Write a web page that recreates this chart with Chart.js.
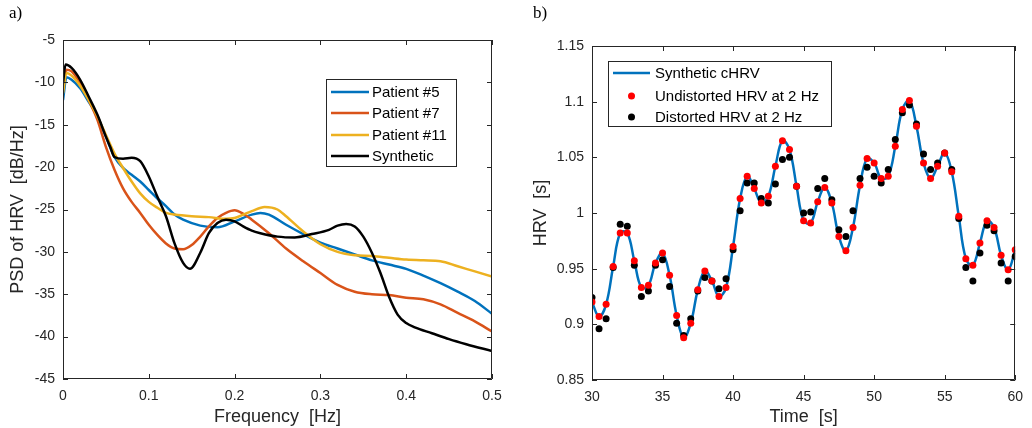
<!DOCTYPE html>
<html>
<head>
<meta charset="utf-8">
<script src="https://cdn.jsdelivr.net/npm/chart.js@4"></script>
<style>
  body { margin: 0; background: #fff; }
  #wrap { position: relative; width: 1032px; height: 428px; overflow: hidden; }
  canvas { position: absolute; top: 0; }
  .tag { position: absolute; font-family: "Liberation Serif", serif; font-size: 17px; color: #000; }
</style>
</head>
<body>
<div id="wrap">
  <canvas id="psdChart" width="516" height="428" style="left:0"></canvas>
  <canvas id="hrvChart" width="516" height="428" style="left:516px"></canvas>
  <div class="tag" style="left:9px;top:3px">a)</div>
  <div class="tag" style="left:533px;top:3px">b)</div>
</div>
<script>
// ---- panel a) PSD of HRV ----
const psdFreqP5 = [0, 0.004, 0.01, 0.02, 0.03, 0.04, 0.05, 0.06, 0.07, 0.08, 0.09, 0.10, 0.11, 0.12, 0.13, 0.14, 0.16, 0.18, 0.20, 0.22, 0.23, 0.24, 0.26, 0.28, 0.30, 0.32, 0.34, 0.36, 0.38, 0.40, 0.42, 0.44, 0.46, 0.48, 0.50];
const psdPatient5 = [-12.1, -9.4, -9.7, -10.7, -12.3, -14.0, -16.4, -18.8, -20.1, -20.9, -21.7, -22.7, -23.7, -24.6, -25.6, -26.2, -26.9, -27.1, -26.4, -25.6, -25.4, -25.6, -26.8, -27.9, -28.9, -29.6, -30.3, -31.0, -31.5, -32.0, -32.8, -33.7, -34.7, -35.8, -37.3];

const psdFreqP7 = [0, 0.004, 0.01, 0.02, 0.03, 0.04, 0.05, 0.06, 0.07, 0.08, 0.09, 0.10, 0.11, 0.12, 0.13, 0.14, 0.15, 0.16, 0.17, 0.18, 0.19, 0.20, 0.21, 0.22, 0.24, 0.26, 0.28, 0.30, 0.32, 0.34, 0.36, 0.38, 0.40, 0.42, 0.44, 0.46, 0.48, 0.50];
const psdPatient7 = [-10.7, -8.5, -8.7, -10.1, -12.1, -14.4, -17.6, -20.3, -22.5, -24.1, -25.4, -26.8, -28.0, -29.0, -29.6, -29.7, -29.2, -28.2, -27.0, -26.0, -25.4, -25.1, -25.5, -26.2, -27.8, -29.6, -31.1, -32.5, -33.9, -34.7, -35.0, -35.1, -35.4, -35.6, -36.2, -37.2, -38.2, -39.4];

const psdFreqP11 = [0, 0.004, 0.01, 0.02, 0.03, 0.04, 0.05, 0.06, 0.07, 0.08, 0.09, 0.10, 0.11, 0.12, 0.13, 0.15, 0.17, 0.19, 0.20, 0.21, 0.22, 0.235, 0.25, 0.26, 0.28, 0.30, 0.32, 0.34, 0.36, 0.38, 0.40, 0.42, 0.44, 0.46, 0.48, 0.50];
const psdPatient11 = [-11.3, -8.9, -9.2, -10.4, -12.1, -14.0, -16.2, -18.4, -20.1, -21.7, -23.1, -24.1, -24.8, -25.4, -25.6, -25.8, -25.9, -26.1, -26.0, -25.6, -25.2, -24.7, -25.0, -25.8, -27.6, -29.1, -30.0, -30.4, -30.5, -30.7, -30.9, -31.0, -31.1, -31.7, -32.3, -32.9];

const psdFreqSyn = [0, 0.003, 0.01, 0.02, 0.03, 0.04, 0.05, 0.055, 0.06, 0.07, 0.08, 0.09, 0.10, 0.11, 0.12, 0.13, 0.14, 0.148, 0.16, 0.17, 0.18, 0.19, 0.20, 0.21, 0.22, 0.23, 0.25, 0.27, 0.29, 0.31, 0.32, 0.33, 0.34, 0.35, 0.36, 0.37, 0.38, 0.39, 0.40, 0.41, 0.43, 0.45, 0.47, 0.50];
const psdSynthetic = [-10.1, -7.9, -8.3, -9.7, -11.7, -13.8, -16.4, -17.6, -18.8, -19.0, -18.9, -19.3, -21.1, -23.5, -25.8, -29.0, -31.3, -32.0, -30.1, -27.8, -26.6, -26.2, -26.4, -27.0, -27.5, -27.8, -28.2, -28.3, -27.9, -27.4, -26.9, -26.7, -27.0, -28.2, -30.1, -32.5, -35.3, -37.4, -38.4, -38.9, -39.6, -40.3, -40.9, -41.7];

const psdLabels = ["Patient #5", "Patient #7", "Patient #11", "Synthetic"];
const psdColors = ["#0072BD", "#D95319", "#EDB120", "#000000"];
const psdXTicks = [0, 0.1, 0.2, 0.3, 0.4, 0.5];
const psdYTicks = [-45, -40, -35, -30, -25, -20, -15, -10, -5];

// ---- panel b) HRV time series ----
const hrvTime = [30, 30.5, 31, 31.5, 32, 32.5, 33, 33.5, 34, 34.5, 35, 35.5, 36, 36.5, 37, 37.5, 38, 38.5, 39, 39.5, 40, 40.5, 41, 41.5, 42, 42.5, 43, 43.5, 44, 44.5, 45, 45.5, 46, 46.5, 47, 47.5, 48, 48.5, 49, 49.5, 50, 50.5, 51, 51.5, 52, 52.5, 53, 53.5, 54, 54.5, 55, 55.5, 56, 56.5, 57, 57.5, 58, 58.5, 59, 59.5, 60];
const hrvUndistorted = [0.920, 0.907, 0.918, 0.952, 0.982, 0.982, 0.957, 0.933, 0.935, 0.955, 0.964, 0.944, 0.908, 0.888, 0.901, 0.931, 0.948, 0.939, 0.925, 0.933, 0.970, 1.013, 1.033, 1.022, 1.009, 1.015, 1.042, 1.065, 1.057, 1.024, 0.993, 0.991, 1.010, 1.023, 1.009, 0.979, 0.966, 0.987, 1.025, 1.049, 1.045, 1.031, 1.033, 1.060, 1.093, 1.101, 1.078, 1.045, 1.031, 1.042, 1.054, 1.037, 0.997, 0.959, 0.953, 0.973, 0.993, 0.987, 0.962, 0.949, 0.967];
const hrvDistorted = [0.924, 0.896, 0.905, 0.951, 0.990, 0.988, 0.953, 0.925, 0.930, 0.953, 0.958, 0.934, 0.901, 0.890, 0.905, 0.930, 0.942, 0.939, 0.932, 0.941, 0.967, 1.002, 1.027, 1.027, 1.013, 1.009, 1.026, 1.048, 1.050, 1.024, 1.000, 1.001, 1.022, 1.031, 1.012, 0.985, 0.979, 1.002, 1.031, 1.041, 1.033, 1.027, 1.039, 1.066, 1.090, 1.097, 1.080, 1.053, 1.039, 1.045, 1.054, 1.039, 0.995, 0.951, 0.939, 0.964, 0.989, 0.984, 0.955, 0.939, 0.961];
const hrvLabels = ["Synthetic cHRV", "Undistorted HRV at 2 Hz", "Distorted HRV at 2 Hz"];
const hrvXTicks = [30, 35, 40, 45, 50, 55, 60];
const hrvYTicks = [0.85, 0.9, 0.95, 1, 1.05, 1.1, 1.15];

const AXIS = "#262626";
const SANS = "'Liberation Sans', Arial, sans-serif";

Chart.defaults.font.family = SANS;
Chart.defaults.color = AXIS;
Chart.defaults.animation = false;

function toPoints(xs, ys) {
  return xs.map((x, i) => ({ x: x, y: ys[i] }));
}

function fmt(v) {
  return String(parseFloat(v.toFixed(3)));
}

// box round the plot area with inward ticks on all four sides, like matlab
const matlabBox = {
  id: "matlabBox",
  afterDatasetsDraw(chart) {
    const { ctx, chartArea: a, scales } = chart;
    const len = 5;
    ctx.save();
    ctx.strokeStyle = AXIS;
    ctx.lineWidth = 1;
    ctx.beginPath();
    ctx.rect(Math.round(a.left) + 0.5, Math.round(a.top) + 0.5, Math.round(a.width) - 1, Math.round(a.height) - 1);
    scales.x.ticks.forEach((t) => {
      const px = Math.round(scales.x.getPixelForValue(t.value)) + 0.5;
      ctx.moveTo(px, a.bottom); ctx.lineTo(px, a.bottom - len);
      ctx.moveTo(px, a.top); ctx.lineTo(px, a.top + len);
    });
    scales.y.ticks.forEach((t) => {
      const py = Math.round(scales.y.getPixelForValue(t.value)) + 0.5;
      ctx.moveTo(a.left, py); ctx.lineTo(a.left + len, py);
      ctx.moveTo(a.right, py); ctx.lineTo(a.right - len, py);
    });
    ctx.stroke();
    ctx.restore();
  },
};

// legend drawn inside the axes with a framed white box
const boxLegend = {
  id: "boxLegend",
  afterDraw(chart, args, opts) {
    const { ctx } = chart;
    ctx.save();
    ctx.fillStyle = "#fff";
    ctx.fillRect(opts.x, opts.y, opts.w, opts.h);
    ctx.strokeStyle = AXIS;
    ctx.lineWidth = 1;
    ctx.strokeRect(opts.x + 0.5, opts.y + 0.5, opts.w, opts.h);
    ctx.font = opts.fontSize + "px " + SANS;
    ctx.textBaseline = "middle";
    chart.data.datasets.forEach((ds, i) => {
      const y = opts.rowY[i];
      if (ds.showLine === false) {
        ctx.fillStyle = ds.pointBackgroundColor;
        ctx.beginPath();
        ctx.arc((opts.sampleX1 + opts.sampleX2) / 2, y, ds.pointRadius, 0, Math.PI * 2);
        ctx.fill();
      } else {
        ctx.strokeStyle = ds.borderColor;
        ctx.lineWidth = ds.borderWidth;
        ctx.beginPath();
        ctx.moveTo(opts.sampleX1, y);
        ctx.lineTo(opts.sampleX2, y);
        ctx.stroke();
      }
      ctx.fillStyle = "#000";
      ctx.fillText(ds.label, opts.textX, y + 1);
    });
    ctx.restore();
  },
};

function axisOptions(min, max, tickValues, title, isY, size, titlePad) {
  return {
    type: "linear",
    min: min,
    max: max,
    afterBuildTicks: (scale) => {
      scale.ticks = tickValues.map((v) => ({ value: v }));
    },
    afterFit: (scale) => {
      if (isY) scale.width = size;
      else scale.height = size;
    },
    grid: { display: false, drawTicks: false },
    border: { display: false },
    ticks: {
      autoSkip: false,
      maxRotation: 0,
      padding: isY ? 8 : 9,
      font: { size: 14 },
      color: AXIS,
      callback: (v) => fmt(v),
    },
    title: {
      display: true,
      text: title,
      font: { size: 18 },
      color: AXIS,
      padding: { top: titlePad, bottom: 0 },
    },
  };
}

const psdSets = [
  toPoints(psdFreqP5, psdPatient5),
  toPoints(psdFreqP7, psdPatient7),
  toPoints(psdFreqP11, psdPatient11),
  toPoints(psdFreqSyn, psdSynthetic),
];

new Chart(document.getElementById("psdChart"), {
  type: "line",
  data: {
    datasets: psdSets.map((pts, i) => ({
      label: psdLabels[i],
      data: pts,
      borderColor: psdColors[i],
      borderWidth: 2.5,
      pointRadius: 0,
      cubicInterpolationMode: "monotone",
      fill: false,
      order: 4 - i,
    })),
  },
  options: {
    responsive: false,
    devicePixelRatio: 1,
    layout: { padding: { left: 0, right: 24, top: 40, bottom: 0 } },
    scales: {
      x: axisOptions(0, 0.5, psdXTicks, "Frequency  [Hz]", false, 49, 0),
      y: axisOptions(-45, -5, psdYTicks, "PSD of HRV  [dB/Hz]", true, 63, 7),
    },
    plugins: {
      legend: { display: false },
      tooltip: { enabled: false },
      boxLegend: {
        x: 326, y: 79, w: 130, h: 87,
        rowY: [92, 113, 135, 156],
        sampleX1: 331, sampleX2: 369, textX: 372, fontSize: 15,
      },
    },
  },
  plugins: [matlabBox, boxLegend],
});

new Chart(document.getElementById("hrvChart"), {
  type: "line",
  data: {
    datasets: [
      {
        label: hrvLabels[0],
        data: toPoints(hrvTime, hrvUndistorted),
        borderColor: "#0072BD",
        borderWidth: 2.5,
        pointRadius: 0,
        tension: 0.4,
        fill: false,
        order: 3,
      },
      {
        label: hrvLabels[1],
        data: toPoints(hrvTime, hrvUndistorted),
        showLine: false,
        pointRadius: 3.5,
        pointBorderWidth: 0,
        pointBackgroundColor: "#FF0000",
        pointBorderColor: "#FF0000",
        order: 1,
      },
      {
        label: hrvLabels[2],
        data: toPoints(hrvTime, hrvDistorted),
        showLine: false,
        pointRadius: 3.5,
        pointBorderWidth: 0,
        pointBackgroundColor: "#000000",
        pointBorderColor: "#000000",
        order: 2,
      },
    ],
  },
  options: {
    responsive: false,
    devicePixelRatio: 1,
    layout: { padding: { left: 0, right: 15, top: 46, bottom: 0 } },
    scales: {
      x: axisOptions(30, 60, hrvXTicks, "Time  [s]", false, 48, 0),
      y: axisOptions(0.85, 1.15, hrvYTicks, "HRV  [s]", true, 76, 14),
    },
    plugins: {
      legend: { display: false },
      tooltip: { enabled: false },
      boxLegend: {
        x: 92, y: 61, w: 223, h: 65,
        rowY: [73, 96, 117],
        sampleX1: 97, sampleX2: 134, textX: 139, fontSize: 15,
      },
    },
  },
  plugins: [matlabBox, boxLegend],
});
</script>
</body>
</html>
